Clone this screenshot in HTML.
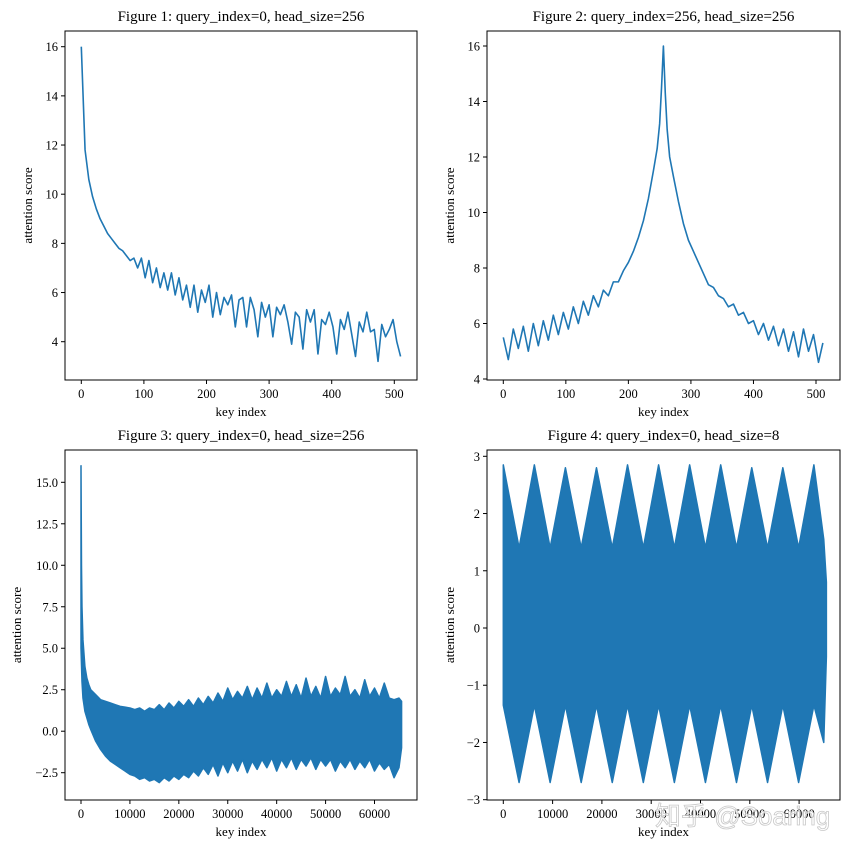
<!DOCTYPE html>
<html><head><meta charset="utf-8"><style>
html,body{margin:0;padding:0;background:#fff;}
svg{display:block;font-family:"Liberation Serif",serif;}
</style></head><body>
<svg id="fig" width="849" height="853" viewBox="0 0 849 853" xmlns="http://www.w3.org/2000/svg">
<rect width="849" height="853" fill="#fff"/>
</svg>
<script>
// ---- Figure 1 data ----
const p1Keys = [0,6,12,18,24,30,36,42,48,54,60,66,72,78,84,90,96,102,108,114,120,126,132,138,144,150,156,162,168,174,180,186,192,198,204,210,216,222,228,234,240,246,252,258,264,270,276,282,288,294,300,306,312,318,324,330,336,342,348,354,360,366,372,378,384,390,396,402,408,414,420,426,432,438,444,450,456,462,468,474,480,486,492,498,504,510];
const p1Scores = [16,11.8,10.6,9.9,9.4,9.0,8.7,8.4,8.2,8.0,7.8,7.7,7.5,7.3,7.4,7.0,7.4,6.6,7.3,6.4,7.0,6.2,6.8,6.1,6.8,5.9,6.6,5.7,6.3,5.4,6.3,5.2,6.1,5.6,6.3,5.0,6.0,5.1,5.8,5.5,5.9,4.6,5.7,5.8,4.6,5.8,5.3,4.2,5.6,5.0,5.5,4.2,5.4,5.1,5.5,4.8,3.9,5.2,5.0,3.7,5.3,4.8,5.3,3.5,4.9,4.7,5.2,4.6,3.5,4.9,4.5,5.2,4.3,3.4,4.8,4.4,5.2,4.4,4.5,3.2,4.7,4.2,4.5,4.9,4.0,3.4];
// ---- Figure 2 data ----
const p2Keys = [0,8,16,24,32,40,48,56,64,72,80,88,96,104,112,120,128,136,144,152,160,168,176,184,192,200,208,216,224,232,240,246,250,253,256,259,262,266,272,280,288,296,304,312,320,328,336,344,352,360,368,376,384,392,400,408,416,424,432,440,448,456,464,472,480,488,496,504,511];
const p2Scores = [5.5,4.7,5.8,5.1,5.9,5.0,6.0,5.2,6.1,5.4,6.3,5.6,6.4,5.8,6.6,6.0,6.8,6.3,7.0,6.6,7.2,7.0,7.5,7.5,7.9,8.2,8.6,9.1,9.7,10.5,11.5,12.3,13.2,14.5,16,14.3,13.0,12.0,11.3,10.4,9.6,9.0,8.6,8.2,7.8,7.4,7.3,7.0,6.9,6.6,6.7,6.3,6.4,6.0,6.1,5.6,6.0,5.4,5.9,5.2,5.8,5.0,5.7,4.8,5.8,5.0,5.6,4.6,5.3];
// ---- Figure 3 data (envelope of dense series) ----
const p3Keys = [0,100,200,400,800,1200,1600,2000,3000,4000,5000,6000,7000,8000,9000,10000,11000,12000,13000,14000,15000,16000,17000,18000,19000,20000,21000,22000,23000,24000,25000,26000,27000,28000,29000,30000,31000,32000,33000,34000,35000,36000,37000,38000,39000,40000,41000,42000,43000,44000,45000,46000,47000,48000,49000,50000,51000,52000,53000,54000,55000,56000,57000,58000,59000,60000,61000,62000,63000,64000,65000,65535];
const p3Upper = [16,10,7.5,5.5,3.9,3.2,2.8,2.5,2.2,1.9,1.8,1.7,1.6,1.5,1.45,1.4,1.3,1.4,1.2,1.4,1.3,1.6,1.3,1.7,1.4,1.8,1.5,1.9,1.5,2.0,1.6,2.1,1.7,2.3,1.8,2.6,1.9,2.4,2.0,2.7,1.9,2.6,2.0,2.9,2.0,2.5,2.1,3.0,2.1,2.8,2.0,3.2,2.1,2.7,2.0,3.3,2.1,2.6,2.2,3.3,2.1,2.5,2.0,3.1,2.1,2.6,2.0,2.9,2.0,1.9,2.0,1.8];
const p3Lower = [5,4,3,2,1.2,0.8,0.4,0.1,-0.6,-1.1,-1.5,-1.8,-2.0,-2.2,-2.4,-2.6,-2.7,-2.9,-2.8,-3.0,-2.9,-3.1,-2.8,-3.0,-2.7,-2.9,-2.6,-2.8,-2.4,-2.7,-2.2,-2.6,-2.0,-2.7,-1.9,-2.5,-1.8,-2.4,-1.7,-2.5,-1.8,-2.3,-1.7,-2.2,-1.6,-2.4,-1.7,-2.2,-1.6,-2.3,-1.7,-2.1,-1.6,-2.3,-1.7,-2.1,-1.7,-2.4,-1.8,-2.2,-1.7,-2.3,-1.8,-2.2,-1.7,-2.4,-1.9,-2.3,-2.0,-2.8,-2.2,-1.0];
// ---- Figure 4 data (envelope) ----
const p4Keys = [0,3200,6300,9500,12600,15800,18900,22100,25200,28400,31500,34700,37800,41000,44100,47300,50400,53600,56700,59900,63000,65000,65535];
const p4Upper = [2.85,1.4,2.85,1.4,2.8,1.4,2.8,1.4,2.85,1.4,2.85,1.4,2.85,1.4,2.85,1.4,2.8,1.4,2.8,1.4,2.85,1.55,0.8];
const p4Lower = [-1.35,-2.7,-1.35,-2.7,-1.35,-2.7,-1.35,-2.7,-1.35,-2.7,-1.35,-2.7,-1.35,-2.7,-1.35,-2.7,-1.35,-2.7,-1.35,-2.7,-1.35,-2.0,-0.5];
// ---- tick labels ----
const p1XTicks = [0,100,200,300,400,500];
const p1YTicks = [4,6,8,10,12,14,16];
const p2XTicks = [0,100,200,300,400,500];
const p2YTicks = [4,6,8,10,12,14,16];
const p3XTicks = [0,10000,20000,30000,40000,50000,60000];
const p3YTicks = [-2.5,0,2.5,5,7.5,10,12.5,15];
const p3YLabels = ["\u22122.5","0.0","2.5","5.0","7.5","10.0","12.5","15.0"];
const p4XTicks = [0,10000,20000,30000,40000,50000,60000];
const p4YTicks = [-3,-2,-1,0,1,2,3];
const p4YLabels = ["\u22123","\u22122","\u22121","0","1","2","3"];

const NS = "http://www.w3.org/2000/svg";
const svg = document.getElementById('fig');
const C = "#1f77b4";
function mk(tag, attrs, parent){const e=document.createElementNS(NS,tag);for(const k in attrs)e.setAttribute(k,attrs[k]);(parent||svg).appendChild(e);return e;}
function lin(d0,d1,r0,r1){return v=>r0+(v-d0)*(r1-r0)/(d1-d0);}

function axes(cfg){
  const g = mk('g',{});
  
  
  const fx = lin(cfg.xd[0],cfg.xd[1],cfg.xr[0],cfg.xr[1]);
  const fy = lin(cfg.yd[0],cfg.yd[1],cfg.yr[0],cfg.yr[1]);
  if(cfg.line){
    const pts = cfg.line.keys.map((k,i)=>fx(k).toFixed(2)+','+fy(cfg.line.vals[i]).toFixed(2)).join(' ');
    const pl = mk('polyline',{points:pts,fill:'none',stroke:C,'stroke-width':1.6,'stroke-linejoin':'round'},g);
    
    
  }
  if(cfg.band){
    const b=cfg.band;
    const up = b.keys.map((k,i)=>fx(k).toFixed(2)+','+fy(b.up[i]).toFixed(2));
    const lo = b.keys.map((k,i)=>fx(k).toFixed(2)+','+fy(b.lo[i]).toFixed(2)).reverse();
    const pg = mk('polygon',{points:up.concat(lo).join(' '),fill:C,stroke:C,'stroke-width':1.5,'stroke-linejoin':'round'},g);
    
    
  }
  const fr = mk('rect',{x:cfg.box[0],y:cfg.box[1],width:cfg.box[2]-cfg.box[0],height:cfg.box[3]-cfg.box[1],fill:'none',stroke:'#000','stroke-width':1},g);
  
  
  cfg.xt.forEach((v,i)=>{
    const x=fx(v);
    mk('line',{x1:x,x2:x,y1:cfg.box[3],y2:cfg.box[3]+4,stroke:'#000','stroke-width':1},g);
    const t=mk('text',{x:x,y:cfg.box[3]+18,'text-anchor':'middle','font-size':12.5},g);
    
    
    t.textContent = cfg.xl?cfg.xl[i]:String(v);
  });
  cfg.yt.forEach((v,i)=>{
    const y=fy(v);
    mk('line',{x1:cfg.box[0]-4,x2:cfg.box[0],y1:y,y2:y,stroke:'#000','stroke-width':1},g);
    const t=mk('text',{x:cfg.box[0]-7,y:y+4.5,'text-anchor':'end','font-size':12.5},g);
    
    
    t.textContent = cfg.yl?cfg.yl[i]:String(v);
  });
  const cx=(cfg.box[0]+cfg.box[2])/2, cy=(cfg.box[1]+cfg.box[3])/2;
  const tt=mk('text',{x:cx,y:cfg.box[1]-10,'text-anchor':'middle','font-size':15},g);
  
  
  tt.textContent=cfg.title;
  const xl=mk('text',{x:cx,y:cfg.box[3]+36,'text-anchor':'middle','font-size':13},g);
  
  
  xl.textContent='key index';
  const yl=mk('text',{x:cfg.ylx,y:cy,'text-anchor':'middle','font-size':13,transform:'rotate(-90 '+cfg.ylx+' '+cy+')'},g);
  
  
  yl.textContent='attention score';
}

axes({name:'figure-1',title:'Figure 1: query_index=0, head_size=256',box:[65,31,417,380],xd:[0,500],xr:[81.3,394.3],yd:[4,16],yr:[341.7,46.7],xt:p1XTicks,yt:p1YTicks,ylx:32,line:{keys:p1Keys,vals:p1Scores}});
axes({name:'figure-2',title:'Figure 2: query_index=256, head_size=256',box:[487,31,840,380],xd:[0,500],xr:[503.3,816],yd:[4,16],yr:[379,46],xt:p2XTicks,yt:p2YTicks,ylx:454,line:{keys:p2Keys,vals:p2Scores}});
axes({name:'figure-3',title:'Figure 3: query_index=0, head_size=256',box:[65,450,417,800],xd:[0,60000],xr:[81,374.5],yd:[-2.5,15],yr:[772.7,482.3],xt:p3XTicks,yt:p3YTicks,yl:p3YLabels,ylx:21,band:{keys:p3Keys,up:p3Upper,lo:p3Lower}});
axes({name:'figure-4',title:'Figure 4: query_index=0, head_size=8',box:[487,450,840,800],xd:[0,10000],xr:[503.3,552.6],yd:[-3,3],yr:[799.7,456.3],xt:p4XTicks,yt:p4YTicks,yl:p4YLabels,ylx:454,band:{keys:p4Keys,up:p4Upper,lo:p4Lower}});

const wm = mk('text',{x:655,y:825,'font-size':26,fill:'#ffffff','fill-opacity':0.7,stroke:'#c8c8c8','stroke-width':0.8,'font-family':'"Liberation Sans","Noto Sans CJK SC",sans-serif'});


wm.textContent='知乎 @Soaring';
</script>
</body></html>
